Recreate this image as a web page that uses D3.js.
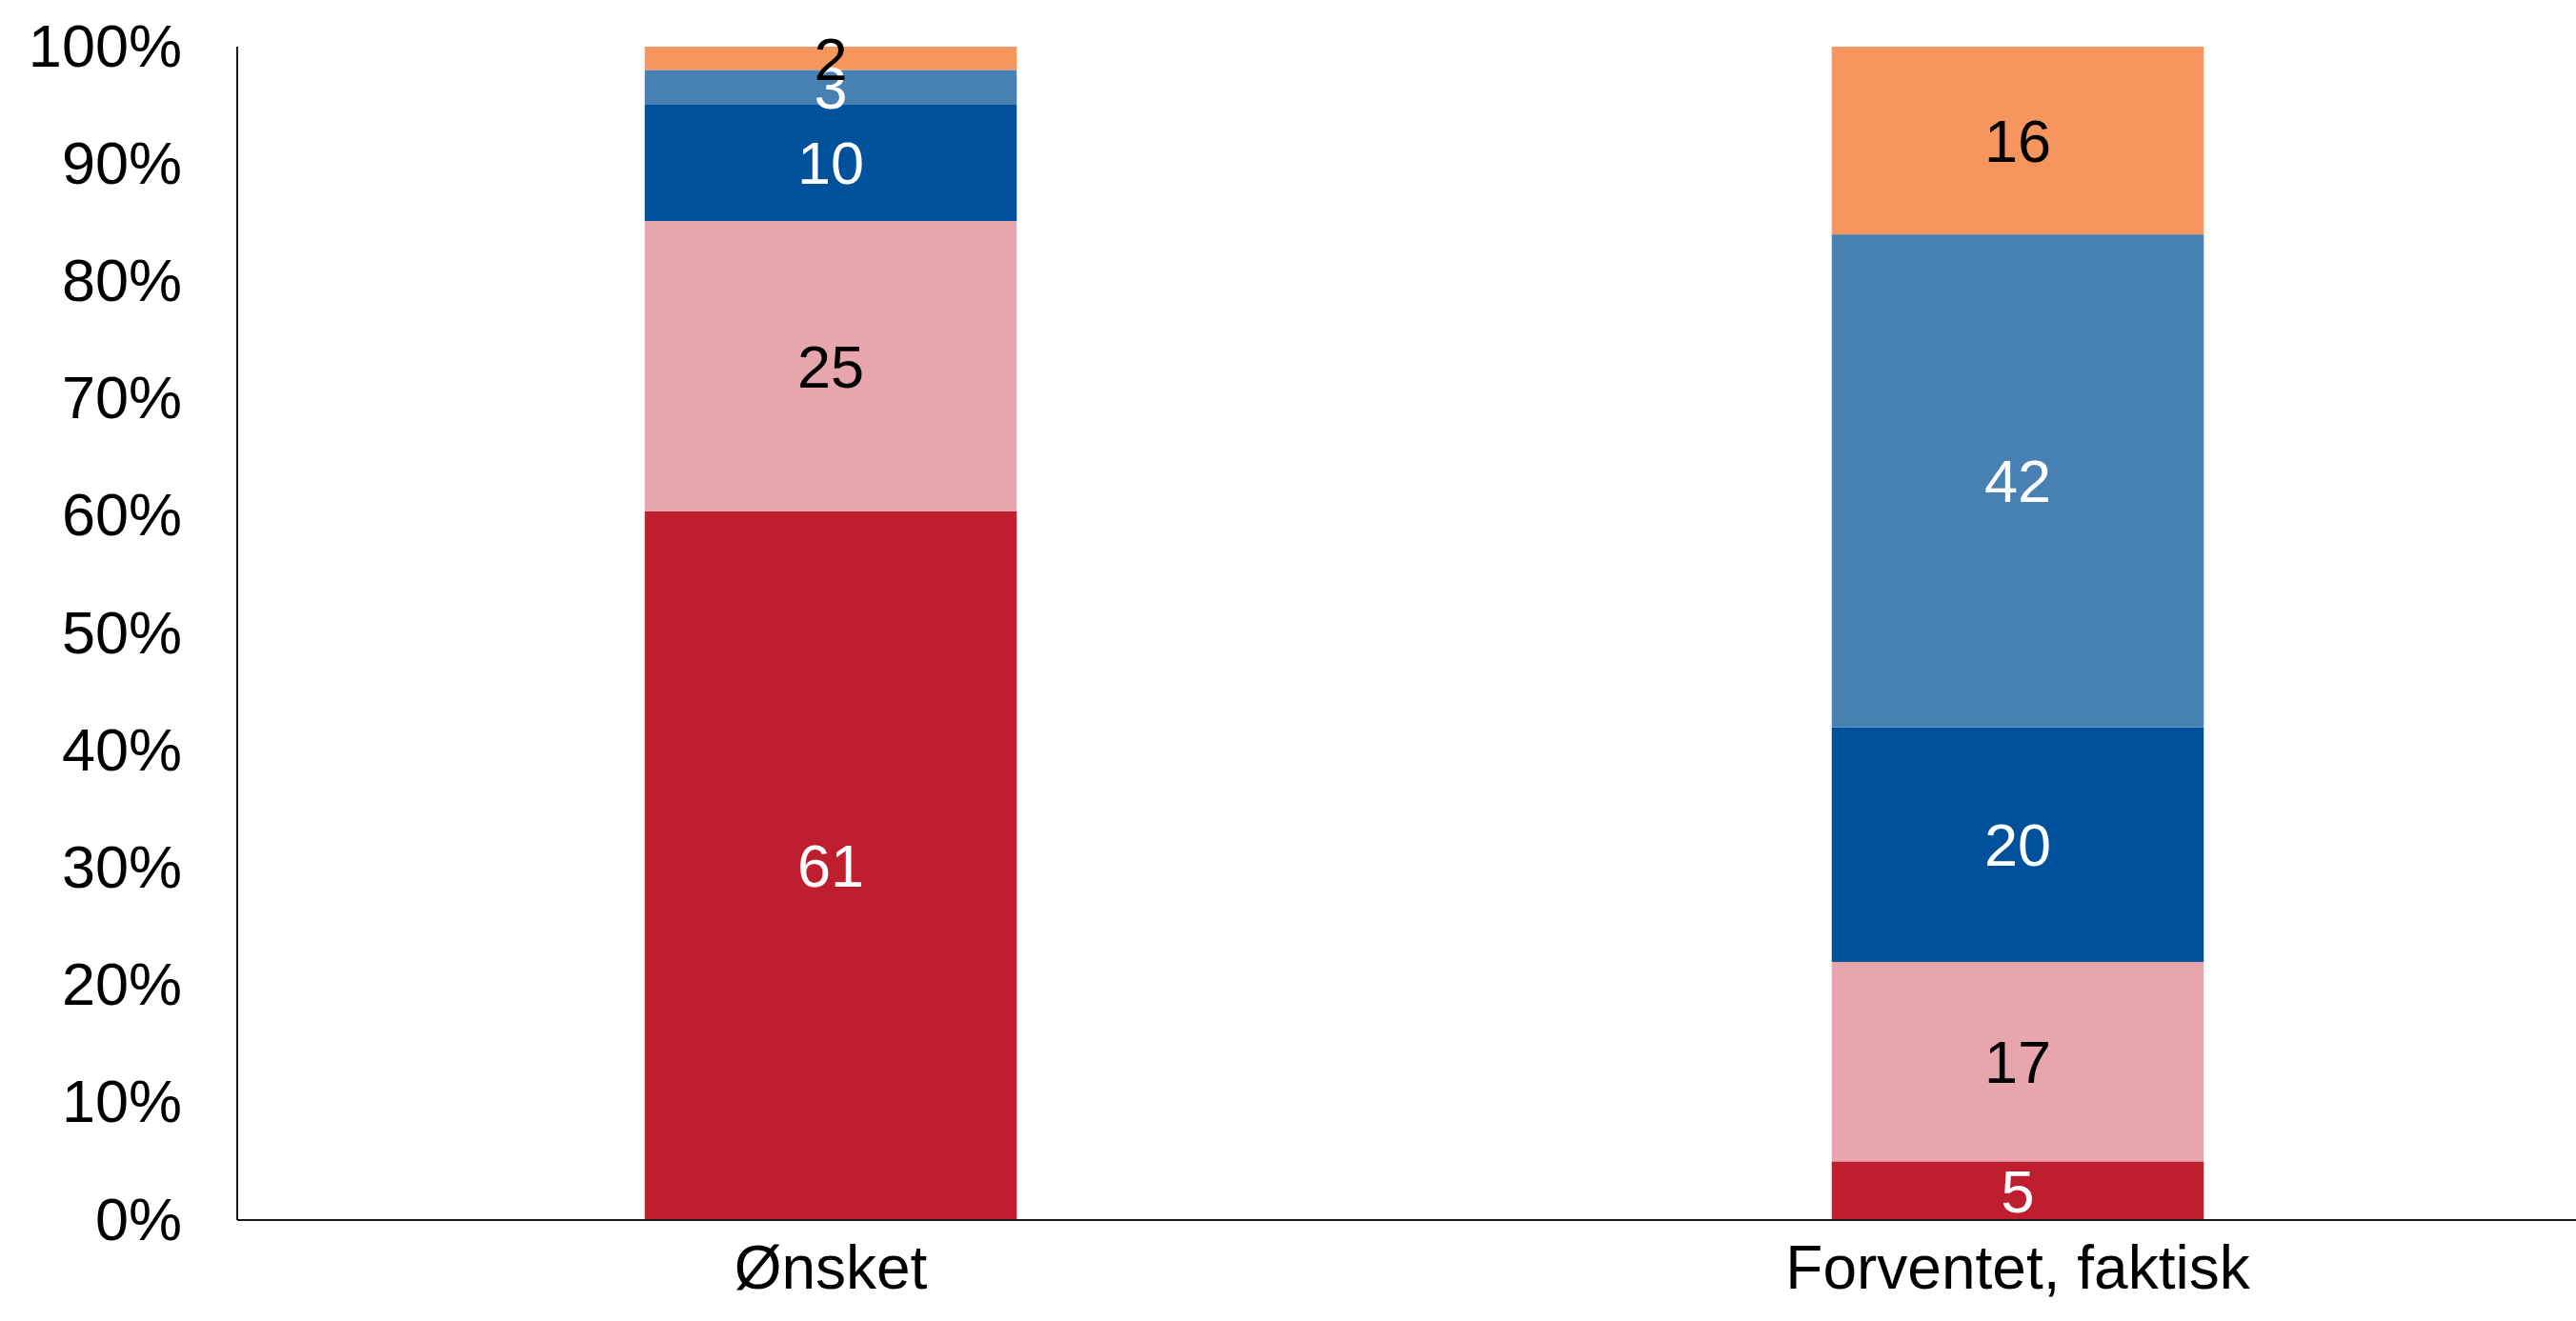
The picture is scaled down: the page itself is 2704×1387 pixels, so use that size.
<!DOCTYPE html>
<html>
<head>
<meta charset="utf-8">
<script src="https://cdn.jsdelivr.net/npm/d3@7"></script>
<style>
  html, body { margin: 0; padding: 0; background: #fff; }
  svg { display: block; }
  text { font-family: "Liberation Sans", Arial, sans-serif; }
</style>
</head>
<body>
<svg id="chart" width="2704" height="1387"></svg>
<script>
// ---- Data ----
const categories = ["Ønsket", "Forventet, faktisk"];
const seriesNames = ["s1", "s2", "s3", "s4", "s5"]; // bottom to top
const s1 = [61, 5];
const s2 = [25, 17];
const s3 = [10, 20];
const s4 = [3, 42];
const s5 = [2, 16];
const seriesValues = [s1, s2, s3, s4, s5];
const seriesColors = ["#BE1E2E", "#E7A6AC", "#00519C", "#4781B3", "#F6955E"];
const labelColors = ["#ffffff", "#000000", "#ffffff", "#ffffff", "#000000"];
const yTicks = [0, 0.1, 0.2, 0.3, 0.4, 0.5, 0.6, 0.7, 0.8, 0.9, 1.0];

// ---- Layout ----
const svg = d3.select("#chart");
const mLeft = 249, mTop = 49, mBottom = 1281, axisRight = 2704, bandEnd = 2741;
const fontSize = 63;

const table = categories.map((c, i) => {
  const row = { cat: c };
  seriesNames.forEach((s, j) => row[s] = seriesValues[j][i]);
  return row;
});

const stack = d3.stack().keys(seriesNames).offset(d3.stackOffsetExpand);
const stacked = stack(table);

const x = d3.scaleBand().domain(categories).range([mLeft, bandEnd])
  .paddingInner(0.6866).paddingOuter(0.3433).align(0.5);
const y = d3.scaleLinear().domain([0, 1]).range([mBottom, mTop]);

// bars
const g = svg.append("g");
stacked.forEach((layer, j) => {
  g.selectAll(null).data(layer).enter().append("rect")
    .attr("x", d => x(d.data.cat))
    .attr("width", x.bandwidth())
    .attr("y", d => y(d[1]))
    .attr("height", d => y(d[0]) - y(d[1]))
    .attr("fill", seriesColors[j]);
});

// labels
stacked.forEach((layer, j) => {
  g.selectAll(null).data(layer).enter().append("text")
    .attr("x", d => x(d.data.cat) + x.bandwidth() / 2)
    .attr("y", d => (y(d[0]) + y(d[1])) / 2)
    .attr("dy", "0.355em")
    .attr("text-anchor", "middle")
    .attr("font-size", fontSize)
    .attr("fill", labelColors[j])
    .text(d => d.data[layer.key]);
});

// y axis
const yAxis = d3.axisLeft(y).tickValues(yTicks).tickSize(0).tickPadding(58)
  .tickFormat(d3.format(".0%"));
const ya = svg.append("g").attr("transform", `translate(${mLeft},0)`).call(yAxis);
ya.select(".domain").remove();
ya.selectAll("text").attr("font-size", fontSize).attr("fill", "#000")
  .style("font-family", '"Liberation Sans", Arial, sans-serif');
svg.append("line").attr("x1", mLeft).attr("x2", mLeft).attr("y1", mTop).attr("y2", mBottom)
  .attr("stroke", "#1a1a1a").attr("stroke-width", 2);

// x axis
const xAxis = d3.axisBottom(x).tickSize(0).tickPadding(27);
const xa = svg.append("g").attr("transform", `translate(0,${mBottom})`).call(xAxis);
xa.select(".domain").remove();
xa.selectAll("text").attr("font-size", 64).attr("fill", "#000")
  .style("font-family", '"Liberation Sans", Arial, sans-serif');
svg.append("line").attr("x1", mLeft).attr("x2", axisRight).attr("y1", mBottom).attr("y2", mBottom)
  .attr("stroke", "#1a1a1a").attr("stroke-width", 2);
</script>
</body>
</html>
